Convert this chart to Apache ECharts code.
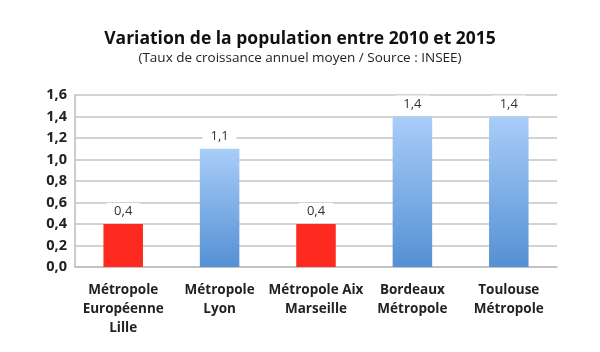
<!DOCTYPE html>
<html>
<head>
<meta charset="utf-8">
<script src="https://cdn.jsdelivr.net/npm/echarts@6/dist/echarts.min.js"></script>
<style>
  html, body { margin: 0; padding: 0; background: #fff; }
  #chart { width: 600px; height: 352px; }
</style>
</head>
<body>
<div id="chart"></div>
<script>
// Variation de la population 2010-2015
const categories = ['Métropole\nEuropéenne\nLille', 'Métropole\nLyon', 'Métropole Aix\nMarseille', 'Bordeaux\nMétropole', 'Toulouse\nMétropole']
const values = [0.4, 1.1, 0.4, 1.4, 1.4]
const highlight = [true, false, true, false, false]
const yTicks = [0, 0.2, 0.4, 0.6, 0.8, 1.0, 1.2, 1.4, 1.6]

const font = '"Open Sans", "Liberation Sans", sans-serif'
const fmt = v => v.toFixed(1).replace('.', ',')

const blue = new echarts.graphic.LinearGradient(0, 0, 0, 1, [
    { offset: 0, color: '#a9cdf8' },
    { offset: 1, color: '#5490d4' }
])

const chart = echarts.init(document.getElementById('chart'))

const option = {
    backgroundColor: '#fff',
    animation: false,
    title: {
        text: 'Variation de la population entre 2010 et 2015',
        subtext: '(Taux de croissance annuel moyen / Source : INSEE)',
        left: 'center',
        top: 25,
        itemGap: 3,
        textStyle: { fontFamily: font, fontSize: 17.5, fontWeight: 'bold', color: '#111' },
        subtextStyle: { fontFamily: font, fontSize: 13.5, color: '#222' }
    },
    grid: { left: 75, right: 43, top: 95, bottom: 85 },
    xAxis: {
        type: 'category',
        data: categories,
        axisLine: { lineStyle: { color: '#bdbdbd', width: 1.5 } },
        axisTick: { show: false },
        axisLabel: {
            interval: 0,
            margin: 14,
            fontFamily: font,
            fontSize: 13.5,
            fontWeight: 'bold',
            color: '#222',
            lineHeight: 19
        }
    },
    yAxis: {
        type: 'value',
        min: yTicks[0],
        max: yTicks[yTicks.length - 1],
        interval: 0.2,
        axisLine: { show: true, lineStyle: { color: '#bdbdbd', width: 1.5 } },
        axisTick: { show: false },
        splitLine: { lineStyle: { color: '#c4c4c4', width: 1.5 } },
        axisLabel: {
            margin: 8,
            fontFamily: font,
            fontSize: 14.5,
            fontWeight: 'bold',
            color: '#222',
            formatter: v => fmt(v)
        }
    },
    series: [{
        type: 'bar',
        barWidth: '41%',
        data: values.map((v, i) => ({
            value: v,
            itemStyle: { color: highlight[i] ? '#fe2a1f' : blue }
        })),
        label: {
            show: true,
            position: 'top',
            distance: 4,
            fontFamily: font,
            fontSize: 13,
            color: '#333',
            backgroundColor: '#fff',
            padding: [2, 8],
            formatter: p => fmt(p.value)
        }
    }]
}

chart.setOption(option)
</script>
</body>
</html>
